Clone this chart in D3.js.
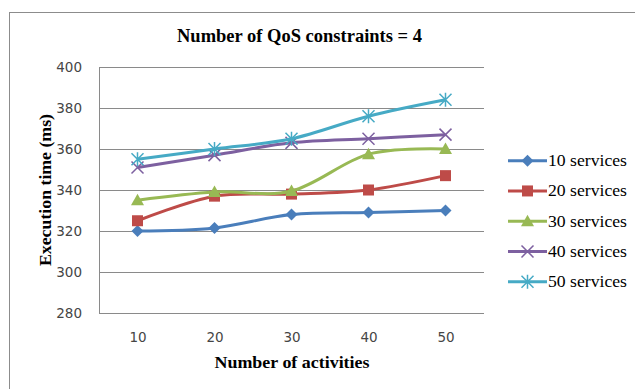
<!DOCTYPE html>
<html><head><meta charset="utf-8">
<script src="https://cdn.jsdelivr.net/npm/d3@7"></script>
<style>body{margin:0;background:#fff}</style>
</head><body><svg id="c" width="635" height="389"></svg>
<script>
const categories = ["10","20","30","40","50"];
const seriesNames = ["10 services","20 services","30 services","40 services","50 services"];
const s10 = [320,321.5,328,329,330];
const s20 = [325,337,338,340,347];
const s30 = [335,339,339.5,357.5,360];
const s40 = [351,357,363,365,367];
const s50 = [355,360,365,376,384];
const yTicks = [280,300,320,340,360,380,400];
const title = "Number of QoS constraints = 4";
const xTitle = "Number of activities";
const yTitle = "Execution time (ms)";

const series = [s10,s20,s30,s40,s50];
const colors = ["#4A7EBB","#BE4B48","#98B954","#7D60A0","#46AAC5"];
const markers = ["diamond","square","triangle","x","star"];

const svg = d3.select("#c");
svg.append("rect").attr("x",9.5).attr("y",12.5).attr("width",700).attr("height",500)
  .attr("fill","#fff").attr("stroke","#8c8c8c");

const L=99,R=484,T=67,B=313;
const x = d3.scalePoint().domain(categories).range([L,R]).padding(0.5);
const y = d3.scaleLinear().domain([280,400]).range([B,T]);

svg.append("g").selectAll("line").data(yTicks).join("line")
  .attr("x1",L).attr("x2",R).attr("y1",d=>Math.round(y(d))+0.5).attr("y2",d=>Math.round(y(d))+0.5)
  .attr("stroke","#8a8a8a").attr("stroke-width",1);
svg.append("line").attr("x1",L+0.5).attr("x2",L+0.5).attr("y1",T).attr("y2",B+0.5).attr("stroke","#8a8a8a");

const sans = "'DejaVu Sans', Verdana, sans-serif";
const serif = "'Liberation Serif', 'Times New Roman', serif";

const yAxis = d3.axisLeft(y).tickValues(yTicks).tickSize(0).tickPadding(17);
const ga = svg.append("g").attr("transform",`translate(${L},0)`).call(yAxis);
ga.select(".domain").remove();
ga.selectAll("text").attr("font-family",sans).attr("font-size",13.5).attr("fill","#454545").attr("dy","0.36em");

const xAxis = d3.axisBottom(x).tickSize(0).tickPadding(19);
const gx = svg.append("g").attr("transform",`translate(0,${B})`).call(xAxis);
gx.select(".domain").remove();
gx.selectAll("text").attr("font-family",sans).attr("font-size",13.5).attr("fill","#454545");

svg.append("text").attr("x",299.5).attr("y",42).attr("text-anchor","middle")
  .attr("font-family",serif).attr("font-weight","bold").attr("font-size",18)
  .attr("textLength",245).attr("lengthAdjust","spacingAndGlyphs").text(title);
svg.append("text").attr("x",292).attr("y",368).attr("text-anchor","middle")
  .attr("font-family",serif).attr("font-weight","bold").attr("font-size",17)
  .attr("textLength",155).attr("lengthAdjust","spacingAndGlyphs").text(xTitle);
svg.append("text").attr("transform","translate(51,190) rotate(-90)").attr("text-anchor","middle")
  .attr("font-family",serif).attr("font-weight","bold").attr("font-size",16)
  .attr("textLength",152).attr("lengthAdjust","spacingAndGlyphs").text(yTitle);

const line = d3.line().x((d,i)=>x(categories[i])).y(d=>y(d)).curve(d3.curveCardinal.tension(0));

function drawMarker(g, type, cx, cy, color){
  if(type==="diamond"){
    g.append("path").attr("d",`M${cx},${cy-6}L${cx+6},${cy}L${cx},${cy+6}L${cx-6},${cy}Z`).attr("fill",color);
  } else if(type==="square"){
    g.append("rect").attr("x",cx-5.5).attr("y",cy-5.5).attr("width",11).attr("height",11).attr("fill",color);
  } else if(type==="triangle"){
    g.append("path").attr("d",`M${cx},${cy-6.5}L${cx+6.5},${cy+5}L${cx-6.5},${cy+5}Z`).attr("fill",color);
  } else if(type==="x"){
    g.append("path").attr("d",`M${cx-6},${cy-6}L${cx+6},${cy+6}M${cx-6},${cy+6}L${cx+6},${cy-6}`).attr("stroke",color).attr("stroke-width",1.5);
  } else {
    g.append("path").attr("d",`M${cx-6},${cy-6}L${cx+6},${cy+6}M${cx-6},${cy+6}L${cx+6},${cy-6}M${cx},${cy-7}L${cx},${cy+7}`).attr("stroke",color).attr("stroke-width",1.5);
  }
}

series.forEach((s,k)=>{
  const g = svg.append("g");
  g.append("path").datum(s).attr("d",line).attr("fill","none").attr("stroke",colors[k]).attr("stroke-width",3);
  s.forEach((v,i)=>drawMarker(g,markers[k],x(categories[i]),y(v),colors[k]));
});

const lg = svg.append("g");
seriesNames.forEach((n,k)=>{
  const yy = 160.7 + k*30.25;
  lg.append("line").attr("x1",508).attr("x2",547).attr("y1",yy).attr("y2",yy).attr("stroke",colors[k]).attr("stroke-width",3);
  drawMarker(lg,markers[k],527.5,yy,colors[k]);
  lg.append("text").attr("x",548).attr("y",yy+5.5).attr("font-family",serif).attr("font-size",17).attr("fill","#000")
    .attr("textLength",79).attr("lengthAdjust","spacingAndGlyphs").text(n);
});
</script></body></html>
